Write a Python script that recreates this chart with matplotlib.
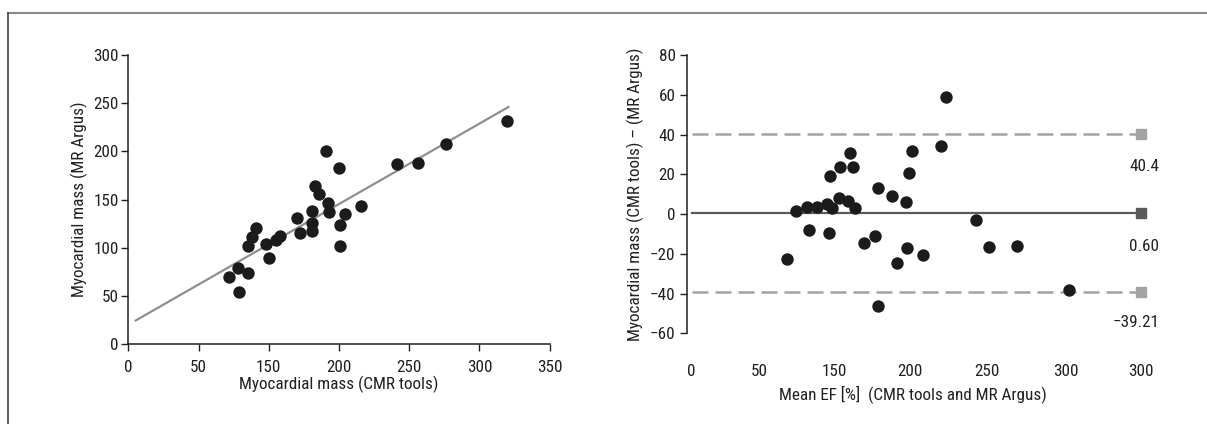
import matplotlib
matplotlib.use("Agg")
import matplotlib.pyplot as plt
from matplotlib.lines import Line2D
from matplotlib import font_manager as fm

names = {f.name for f in fm.fontManager.ttflist}
fam = [n for n in ["Liberation Sans Narrow", "Roboto Condensed", "Open Sans Condensed", "Liberation Sans", "DejaVu Sans"] if n in names]
plt.rcParams['font.family'] = fam + ['DejaVu Sans']
plt.rcParams['axes.unicode_minus'] = True

# ---------------- data ----------------
# Left: correlation (x in axis position units; tick labels as printed)
left_x = [72, 78, 79, 85, 85, 88, 91, 98, 100, 105, 108, 120, 122, 131, 131,
          131, 133, 136, 141, 142, 143, 150, 151, 151, 154, 166, 191, 206, 226, 270]
left_y = [70, 79, 54, 74, 102, 111, 121, 104, 89, 108, 112, 131, 115, 138, 126,
          117, 164, 156, 200, 146, 137, 183, 124, 102, 135, 143, 187, 188, 208, 231]
fit_x = [4.6, 271.4]
fit_y = [24.1, 246.6]
left_xticks = [0, 50, 100, 150, 200, 250, 300]
left_xticklabels = ['0', '50', '150', '200', '250', '300', '350']
left_yticks = [0, 50, 100, 150, 200, 250, 300]

# Right: Bland-Altman
ba_x = [63.5, 69.7, 77.2, 78.6, 83.5, 90.6, 91.9, 93.5, 92.4, 99.1, 98.6, 105.5,
        104.6, 107.6, 109.1, 115.3, 122.5, 124.4, 124.4, 133.5, 137.4, 143.1,
        143.8, 145.1, 146.9, 154.7, 166.3, 169.7, 190.1, 198.9, 217.6, 252.2]
ba_y = [-22.8, 1.5, 3.7, -8.0, 3.7, 5.0, -9.7, 3.2, 19.1, 23.8, 7.9, 30.9,
        6.5, 23.5, 2.9, -14.7, -11.1, 13.2, -46.3, 9.2, -24.8, 6.2,
        -17.3, 20.8, 31.7, -20.6, 34.4, 59.0, -3.0, -16.4, -16.1, -38.2]
upper_loa = 40.4
mean_diff = 0.60
lower_loa = -39.21
line_end = 300
right_xticks = [0, 45, 95, 146, 197, 250, 300]
right_xticklabels = ['0', '50', '150', '200', '250', '300', '300']
right_yticks = [-60, -40, -20, 0, 20, 40, 60, 80]

txt = '#231f20'
dot = '#1c1a1b'
fs = 12.3

W, H = 1207, 424
fig = plt.figure(figsize=(W / 100, H / 100), dpi=100)

# frame lines
fig.add_artist(Line2D([8.3 / W, 1.0], [1 - 12.7 / H, 1 - 12.7 / H], transform=fig.transFigure,
                      color='#8a8a8a', lw=1.5))
fig.add_artist(Line2D([8.3 / W, 8.3 / W], [1 - 12.7 / H, 0], transform=fig.transFigure,
                      color='#333333', lw=1.1))

# ---------------- left ----------------
ax1 = fig.add_axes([128.3 / W, 1 - 344.3 / H, (549.6 - 128.3) / W, (344.3 - 54.9) / H])
ax1.set_xlim(0, 300)
ax1.set_ylim(0, 300)
for s in ['top', 'right']:
    ax1.spines[s].set_visible(False)
for s in ['left', 'bottom']:
    ax1.spines[s].set_linewidth(1.1)
    ax1.spines[s].set_color(txt)
ax1.plot(fit_x, fit_y, color='#8f8f8f', lw=1.6, zorder=2, solid_capstyle='butt')
ax1.scatter(left_x, left_y, s=80, color=dot, zorder=3, linewidths=0)
ax1.set_xticks(left_xticks)
ax1.set_xticklabels(left_xticklabels)
ax1.set_yticks(left_yticks)
ax1.tick_params(direction='out', length=5, width=1, colors=txt, labelsize=fs)
ax1.tick_params(axis='y', pad=2)
ax1.tick_params(axis='x', pad=6)
ax1.set_xlabel('Myocardial mass (CMR tools)', fontsize=fs, color=txt, labelpad=1)
ax1.set_ylabel('Myocardial mass (MR Argus)', fontsize=fs, color=txt, labelpad=4)

# ---------------- right ----------------
x0 = 691.7
sc = 1.4967
ax2 = fig.add_axes([686.7 / W, 1 - 333.3 / H, (1160 - 686.7) / W, (333.3 - 55) / H])
ax2.set_xlim((686.7 - x0) / sc, (1160 - x0) / sc)
ax2.set_ylim(-60, 80)
for s in ['top', 'right', 'bottom']:
    ax2.spines[s].set_visible(False)
ax2.spines['left'].set_linewidth(1.1)
ax2.spines['left'].set_color(txt)

lw_d = 1.8
ax2.plot([0, line_end], [upper_loa, upper_loa], color='#a3a3a3', lw=lw_d,
         linestyle=(0, (6.4, 2.8)), zorder=1)
ax2.plot([0, line_end], [lower_loa, lower_loa], color='#a3a3a3', lw=lw_d,
         linestyle=(0, (6.4, 2.8)), zorder=1)
ax2.plot([0, line_end], [mean_diff, mean_diff], color='#5a5a5a', lw=1.6, zorder=1)
ax2.plot([line_end, line_end], [upper_loa, lower_loa], linestyle='none', marker='s',
         ms=7, color='#a3a3a3', zorder=2)
ax2.plot([line_end], [mean_diff], linestyle='none', marker='s', ms=7, color='#5a5a5a', zorder=2)
ax2.scatter(ba_x, ba_y, s=80, color=dot, zorder=3, linewidths=0)

tx = (1159.3 - x0) / sc
ax2.text(tx, 23.8, '40.4', ha='right', va='center', fontsize=fs, color=txt, clip_on=False)
ax2.text(tx, -16.1, '0.60', ha='right', va='center', fontsize=fs, color=txt, clip_on=False)
ax2.text(tx, -54.7, '\u221239.21', ha='right', va='center', fontsize=fs, color=txt, clip_on=False)

ax2.set_xticks(right_xticks)
ax2.set_xticklabels(right_xticklabels)
ax2.set_yticks(right_yticks)
ax2.tick_params(axis='y', direction='out', length=5, width=1, colors=txt, labelsize=fs, pad=3)
ax2.tick_params(axis='x', length=0, colors=txt, labelsize=fs, pad=22)
ax2.set_xlabel('Mean EF [%]  (CMR tools and MR Argus)', fontsize=fs, color=txt)
ax2.xaxis.set_label_coords((912.8 - 686.7) / (1160 - 686.7), -0.185)
ax2.set_ylabel('Myocardial mass (CMR tools) \u2013 (MR Argus)', fontsize=fs, color=txt, labelpad=4)

fig.savefig('out.png', dpi=100, facecolor='white')
